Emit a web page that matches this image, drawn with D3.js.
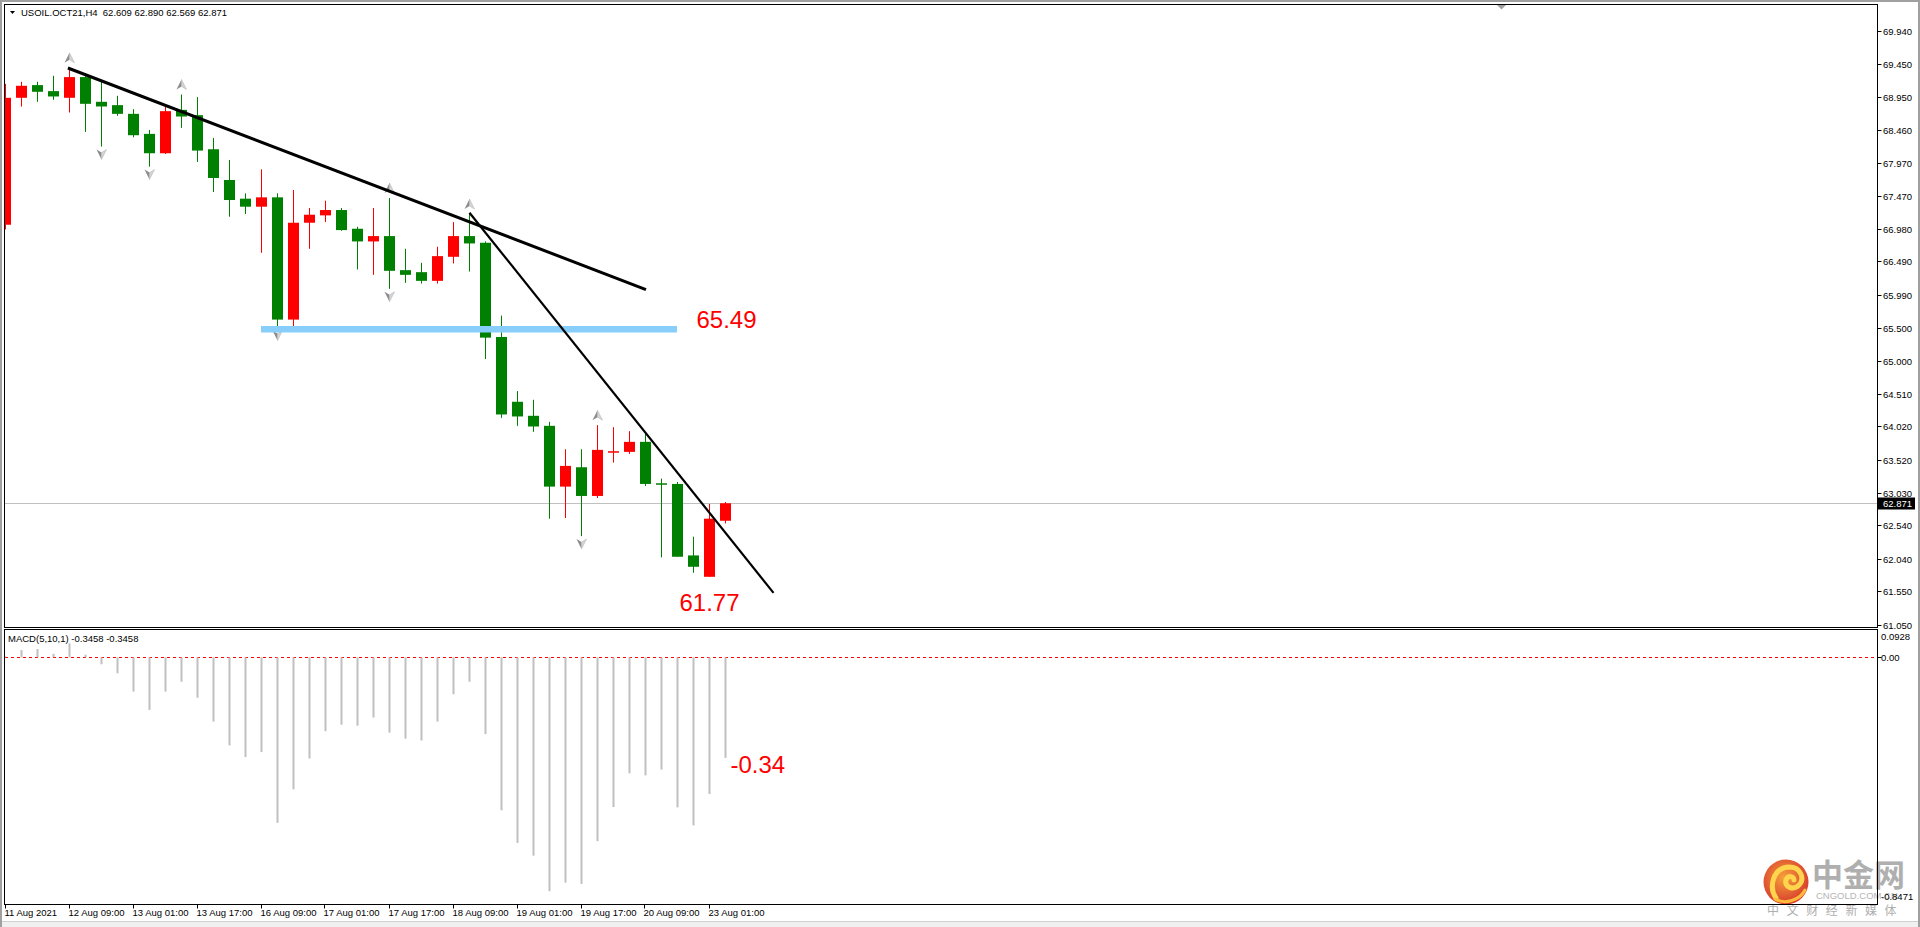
<!DOCTYPE html>
<html>
<head>
<meta charset="utf-8">
<script src="https://cdn.jsdelivr.net/npm/d3@7"></script>
<style>
  html, body { margin: 0; padding: 0; background: #fff; overflow: hidden; }
  svg { display: block; font-family: "Liberation Sans", Arial, sans-serif; }
</style>
</head>
<body>
<div id="vis"></div>
<script>
// ---- data (USOIL.OCT21, H4) ----
var symbol = "USOIL.OCT21,H4";

var barTimes = [
  "11 Aug 17:00","11 Aug 21:00","12 Aug 01:00","12 Aug 05:00","12 Aug 09:00","12 Aug 13:00",
  "12 Aug 17:00","12 Aug 21:00","13 Aug 01:00","13 Aug 05:00","13 Aug 09:00","13 Aug 13:00",
  "13 Aug 17:00","13 Aug 21:00","16 Aug 01:00","16 Aug 05:00","16 Aug 09:00","16 Aug 13:00",
  "16 Aug 17:00","16 Aug 21:00","17 Aug 01:00","17 Aug 05:00","17 Aug 09:00","17 Aug 13:00",
  "17 Aug 17:00","17 Aug 21:00","18 Aug 01:00","18 Aug 05:00","18 Aug 09:00","18 Aug 13:00",
  "18 Aug 17:00","18 Aug 21:00","19 Aug 01:00","19 Aug 05:00","19 Aug 09:00","19 Aug 13:00",
  "19 Aug 17:00","19 Aug 21:00","20 Aug 01:00","20 Aug 05:00","20 Aug 09:00","20 Aug 13:00",
  "20 Aug 17:00","20 Aug 21:00","23 Aug 01:00","23 Aug 05:00"
];

var opens = [67.04,68.94,69.13,69.04,68.94,69.25,68.88,68.83,68.70,68.40,68.11,68.76,68.68,68.17,67.71,67.43,
  67.31,67.45,65.62,67.07,67.18,67.26,66.98,66.79,66.87,66.36,66.33,66.20,66.56,66.87,66.77,65.36,
  64.39,64.18,64.03,63.12,63.41,62.98,63.63,63.64,63.79,63.17,63.16,62.09,61.77,62.609];
var highs = [69.15,69.18,69.18,69.27,69.39,69.31,69.21,68.97,68.77,68.46,68.81,68.99,68.95,68.34,68.01,67.51,
  67.87,67.51,67.56,67.29,67.40,67.29,67.01,67.29,67.44,66.68,66.47,66.71,67.08,67.20,66.79,65.68,
  64.55,64.42,64.09,63.68,63.68,64.04,64.01,63.95,63.92,63.24,63.19,62.37,62.86,62.890];
var lows = [66.97,68.81,68.88,68.91,68.72,68.43,68.21,68.67,68.35,67.91,68.10,68.49,67.98,67.53,67.16,67.20,
  66.62,65.50,65.50,66.68,67.08,66.95,66.37,66.29,66.08,66.17,66.16,66.16,66.46,66.34,65.03,64.15,
  64.03,63.94,62.64,62.65,62.38,62.95,63.48,63.61,63.13,62.06,62.07,61.83,61.77,62.569];
var closes = [68.94,69.12,69.03,68.96,69.25,68.85,68.81,68.70,68.38,68.11,68.74,68.66,68.15,67.74,67.41,67.31,
  67.45,65.62,67.07,67.19,67.26,66.96,66.79,66.87,66.35,66.29,66.20,66.57,66.87,66.76,65.35,64.20,
  64.17,64.02,63.12,63.43,62.98,63.67,63.65,63.79,63.16,63.15,62.07,61.92,62.64,62.871];

var macdValues = [0.003,0.025,0.0285,0.012,0.048,0.009,-0.024,-0.055,-0.118,-0.181,-0.118,-0.084,
  -0.139,-0.221,-0.303,-0.343,-0.326,-0.569,-0.454,-0.348,-0.254,-0.232,-0.235,-0.207,
  -0.259,-0.280,-0.286,-0.221,-0.127,-0.084,-0.264,-0.526,-0.638,-0.682,-0.804,-0.775,
  -0.779,-0.632,-0.515,-0.399,-0.406,-0.386,-0.516,-0.578,-0.470,-0.3458];

var priceTicks = [69.94,69.45,68.95,68.46,67.97,67.47,66.98,66.49,65.99,65.50,65.00,64.51,64.02,63.52,63.03,62.54,62.04,61.55,61.05];
var macdTicks = [0.0928, 0.00, -0.8471];
var macdTickLabels = ["0.0928", "0.00", "-0.8471"];
var timeLabelBars = [0,4,8,12,16,20,24,28,32,36,40,44];
var timeLabels = ["11 Aug 2021","12 Aug 09:00","13 Aug 01:00","13 Aug 17:00","16 Aug 09:00","17 Aug 01:00",
  "17 Aug 17:00","18 Aug 09:00","19 Aug 01:00","19 Aug 17:00","20 Aug 09:00","23 Aug 01:00"];

var fractalUp = [4, 11, 24, 29, 37];
var fractalDown = [6, 9, 17, 24, 36];

// trend lines as [bar, price] pairs, support level
var trendLine1 = [[3.9, 69.386], [40.03, 66.07]];
var trendLine2 = [[29, 67.22], [48.0, 61.53]];
var supportLevel = { from: 16, to: 42, price: 65.475, label: "65.49" };
var lowLabel = { bar: 44, price: 61.77, label: "61.77" };
var macdLabel = "-0.34";

// ---- layout ----
var W = 1920, H = 927;
var L = 4.5, R = 1877.5, pTop = 4.5, pBot = 627.5, mTop = 629.5, mBot = 904.5;

var svg = d3.select("#vis").append("svg").attr("width", W).attr("height", H);

var x = d3.scaleLinear().domain([0, 45]).range([5.5, 725.5]);
var y = d3.scaleLinear().domain([61.05, 69.94]).range([624.9, 31]);
var ym = d3.scaleLinear().domain([-0.8471, 0.0928]).range([903.7, 630.3]);

// window border
svg.append("rect").attr("x", 0).attr("y", 0).attr("width", W).attr("height", H).attr("fill", "#fff");
svg.append("rect").attr("x", 0).attr("y", 922).attr("width", W).attr("height", 5).attr("fill", "#f0f0f0");
svg.append("line").attr("x1", 0).attr("x2", W).attr("y1", 921.5).attr("y2", 921.5).attr("stroke", "#d0d0d0");
svg.append("path").attr("d", "M1,927V1H1919V927").attr("fill", "none").attr("stroke", "#a0a0a0").attr("stroke-width", 2);

var defs = svg.append("defs");
defs.append("clipPath").attr("id", "clipP").append("rect")
  .attr("x", 5).attr("y", 5).attr("width", R - 5.5).attr("height", pBot - 5.5);
defs.append("clipPath").attr("id", "clipM").append("rect")
  .attr("x", 5).attr("y", mTop + 0.5).attr("width", R - 5.5).attr("height", mBot - mTop - 1);

// ---- price panel ----
var gp = svg.append("g").attr("clip-path", "url(#clipP)");

// current price line
gp.append("line").attr("x1", 5).attr("x2", R)
  .attr("y1", Math.round(y(closes[45])) + 0.5).attr("y2", Math.round(y(closes[45])) + 0.5)
  .attr("stroke", "#c0c0c0");

var bars = d3.range(barTimes.length);
var col = function(i) { return closes[i] >= opens[i] ? "#ff0000" : "#008000"; };

gp.selectAll(".wick").data(bars).enter().append("rect")
  .attr("x", function(i) { return x(i) - 0.5; })
  .attr("width", 1)
  .attr("y", function(i) { return y(highs[i]); })
  .attr("height", function(i) { return Math.max(1, y(lows[i]) - y(highs[i])); })
  .attr("fill", col);

gp.selectAll(".body").data(bars).enter().append("rect")
  .attr("x", function(i) { return x(i) - 5.5; })
  .attr("width", 11)
  .attr("y", function(i) { return y(Math.max(opens[i], closes[i])); })
  .attr("height", function(i) { return Math.max(1.5, Math.abs(y(opens[i]) - y(closes[i]))); })
  .attr("fill", col);

// fractal arrows
function arrow(g, cx, cy, up) {
  var s = up ? 1 : -1;
  g.append("path").attr("d", "M" + cx + "," + (cy - 5 * s) + "L" + cx + "," + (cy + 2 * s) + "L" + (cx - 5) + "," + (cy + 5 * s) + "Z")
    .attr("fill", "#8c8c8c");
  g.append("path").attr("d", "M" + cx + "," + (cy - 5 * s) + "L" + (cx + 5) + "," + (cy + 5 * s) + "L" + cx + "," + (cy + 2 * s) + "Z")
    .attr("fill", "#d4d4d4").attr("stroke", "#b0b0b0").attr("stroke-width", 0.5);
}
fractalUp.forEach(function(i) { arrow(gp, x(i), y(highs[i]) - 10, true); });
fractalDown.forEach(function(i) { arrow(gp, x(i), y(lows[i]) + 8, false); });

// support level
gp.append("line")
  .attr("x1", x(supportLevel.from) - 0.5).attr("x2", x(supportLevel.to) - 0.5)
  .attr("y1", y(supportLevel.price)).attr("y2", y(supportLevel.price))
  .attr("stroke", "#87cefa").attr("stroke-width", 6.5);

// trend lines
var tl = d3.line().x(function(d) { return x(d[0]); }).y(function(d) { return y(d[1]); });
gp.append("path").attr("d", tl(trendLine1)).attr("stroke", "#000").attr("stroke-width", 3).attr("fill", "none");
gp.append("path").attr("d", tl(trendLine2)).attr("stroke", "#000").attr("stroke-width", 2.2).attr("fill", "none");

// annotations
svg.append("text").attr("x", x(supportLevel.to) + 19).attr("y", y(supportLevel.price) - 1)
  .attr("font-size", 24).attr("fill", "#ff0000").text(supportLevel.label);
svg.append("text").attr("x", x(lowLabel.bar)).attr("y", y(lowLabel.price) + 34)
  .attr("text-anchor", "middle").attr("font-size", 24).attr("fill", "#ff0000").text(lowLabel.label);

// chart shift marker
svg.append("path").attr("d", "M1497,5L1506,5L1501.5,9.5Z").attr("fill", "#a0a0a0");

// header
svg.append("path").attr("d", "M10,11L15,11L12.5,14Z").attr("fill", "#000");
svg.append("text").attr("x", 21).attr("y", 16).attr("font-size", 9.5).attr("fill", "#000")
  .style("white-space", "pre")
  .text(symbol + "  " + [opens[45], highs[45], lows[45], closes[45]].map(function(v) { return v.toFixed(3); }).join(" "));

// price axis
var pa = svg.append("g");
priceTicks.forEach(function(v) {
  var yy = Math.round(y(v)) + 0.5;
  pa.append("line").attr("x1", R).attr("x2", R + 4).attr("y1", yy).attr("y2", yy).attr("stroke", "#000");
  pa.append("text").attr("x", 1883).attr("y", yy).attr("dy", "0.35em").attr("font-size", 9.5).attr("fill", "#000")
    .text(v.toFixed(3));
});
var cy = Math.round(y(closes[45])) + 0.5;
pa.append("rect").attr("x", R + 0.5).attr("y", cy - 6).attr("width", 37).attr("height", 12).attr("fill", "#000");
pa.append("text").attr("x", 1883).attr("y", cy).attr("dy", "0.35em").attr("font-size", 9.5).attr("fill", "#fff")
  .text(closes[45].toFixed(3));

// ---- MACD panel ----
var gm = svg.append("g").attr("clip-path", "url(#clipM)");
gm.append("line").attr("x1", 5).attr("x2", R)
  .attr("y1", Math.round(ym(0)) + 0.5).attr("y2", Math.round(ym(0)) + 0.5)
  .attr("stroke", "#ff0000").attr("stroke-dasharray", "3,3");
gm.selectAll(".hist").data(bars).enter().append("rect")
  .attr("x", function(i) { return x(i) - 1; })
  .attr("width", 2)
  .attr("y", function(i) { return Math.min(ym(0), ym(macdValues[i])); })
  .attr("height", function(i) { return Math.abs(ym(macdValues[i]) - ym(0)); })
  .attr("fill", "#c0c0c0");

svg.append("text").attr("x", 8).attr("y", 642).attr("font-size", 9.5).attr("fill", "#000")
  .text("MACD(5,10,1) " + macdValues[45].toFixed(4) + " " + macdValues[45].toFixed(4));
svg.append("text").attr("x", x(45) + 5).attr("y", ym(macdValues[45]) + 15)
  .attr("font-size", 24).attr("fill", "#ff0000").text(macdLabel);

// ---- watermark logo ----
var logo = svg.append("g").attr("opacity", 0.92);
var rg = defs.append("radialGradient").attr("id", "lg").attr("cx", "45%").attr("cy", "40%").attr("r", "60%");
rg.append("stop").attr("offset", "0%").attr("stop-color", "#f59a2a");
rg.append("stop").attr("offset", "100%").attr("stop-color", "#d42a1c");
logo.append("circle").attr("cx", 1786).attr("cy", 882).attr("r", 22.5).attr("fill", "url(#lg)");
logo.append("path")
  .attr("d", "M1776,898C1769,888 1772,868 1789,867C1801,867 1805,879 1799,885C1793,891 1784,887 1786,880C1788,875 1794,876 1794,880")
  .attr("fill", "none").attr("stroke", "#ffd23f").attr("stroke-width", 5).attr("stroke-linecap", "round");
logo.append("path")
  .attr("d", "M1775,899C1785,905 1800,900 1805,890")
  .attr("fill", "none").attr("stroke", "#ffb52a").attr("stroke-width", 3).attr("stroke-linecap", "round");
logo.append("text").attr("x", 1812).attr("y", 886).attr("font-family", "'Noto Sans CJK SC', sans-serif")
  .attr("font-weight", "bold").attr("font-size", 31).attr("fill", "#a9a9a9").text("中金网");
logo.append("text").attr("x", 1816).attr("y", 899).attr("font-size", 9.5).attr("fill", "#b0b0b0").text("CNGOLD.COM.CN");
logo.append("text").attr("x", 1767).attr("y", 915).attr("font-family", "'Noto Sans CJK SC', sans-serif")
  .attr("font-size", 12).attr("letter-spacing", 7.6).attr("fill", "#a8a8a8").text("中文财经新媒体");

// MACD axis labels
var ma = svg.append("g");
macdTicks.forEach(function(v, k) {
  var yy = Math.round(ym(v)) + 0.5;
  var off = k === 0 ? 6 : (k === macdTicks.length - 1 ? -8 : 0);
  if (k === 1) ma.append("line").attr("x1", R).attr("x2", R + 4).attr("y1", yy).attr("y2", yy).attr("stroke", "#000");
  ma.append("text").attr("x", 1881).attr("y", yy + off).attr("dy", "0.35em").attr("font-size", 9.5).attr("fill", "#000")
    .text(macdTickLabels[k]);
});

// ---- frames ----
var fr = svg.append("g").attr("fill", "none").attr("stroke", "#000");
fr.append("rect").attr("x", L).attr("y", pTop).attr("width", R - L).attr("height", pBot - pTop);
fr.append("rect").attr("x", L).attr("y", mTop).attr("width", R - L).attr("height", mBot - mTop);

// time axis
var ta = svg.append("g");
timeLabelBars.forEach(function(b, k) {
  var xx = Math.round(x(b)) - 0.5;
  ta.append("line").attr("x1", xx).attr("x2", xx).attr("y1", mBot).attr("y2", mBot + 4).attr("stroke", "#000");
  ta.append("text").attr("x", xx - 1).attr("y", 916).attr("font-size", 9.5).attr("fill", "#000").text(timeLabels[k]);
});
</script>
</body>
</html>
